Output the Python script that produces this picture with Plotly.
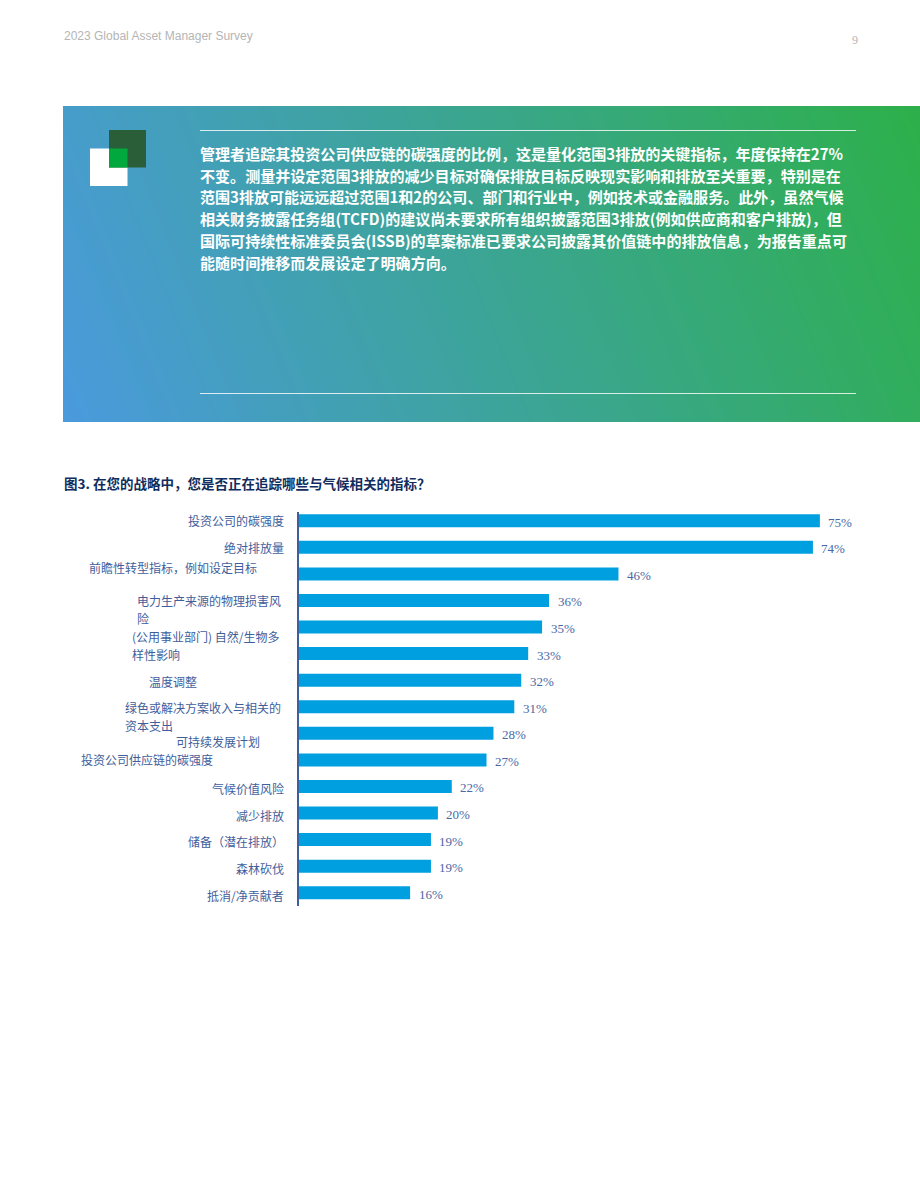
import plotly.graph_objects as go

W, H = 920, 1191

# chart data, top bar first
values = [75, 74, 46, 36, 35, 33, 32, 31, 28, 27, 22, 20, 19, 19, 16]

# labels are placed by hand in the source page, so they do not line up with the bars
label_lines = [
    "投资公司的碳强度", "绝对排放量", "前瞻性转型指标，例如设定目标",
    "电力生产来源的物理损害风", "险", "(公用事业部门) 自然/生物多", "样性影响", "温度调整",
    "绿色或解决方案收入与相关的", "资本支出", "可持续发展计划", "投资公司供应链的碳强度",
    "气候价值风险", "减少排放", "储备（潜在排放）", "森林砍伐", "抵消/净贡献者",
]
label_anchor = ["right", "right", "left", "left", "left", "left", "left", "left",
                "left", "left", "left", "left", "right", "right", "right", "right", "right"]
label_x = [284, 284, 89, 137, 137, 132, 132, 149, 125, 125, 176, 81, 284, 284, 284, 284, 284]
label_y = [520, 547, 567, 600, 618, 636, 654, 681, 707, 725, 741, 759, 788, 815, 841, 868, 895]

panel_lines = [
    "管理者追踪其投资公司供应链的碳强度的比例，这是量化范围3排放的关键指标，年度保持在27%",
    "不变。测量并设定范围3排放的减少目标对确保排放目标反映现实影响和排放至关重要，特别是在",
    "范围3排放可能远远超过范围1和2的公司、部门和行业中，例如技术或金融服务。此外，虽然气候",
    "相关财务披露任务组(TCFD)的建议尚未要求所有组织披露范围3排放(例如供应商和客户排放)，但",
    "国际可持续性标准委员会(ISSB)的草案标准已要求公司披露其价值链中的排放信息，为报告重点可",
    "能随时间推移而发展设定了明确方向。",
]
panel_y = [153.5, 175.5, 196.5, 218.5, 240.5, 262.5]

title_text = "图3. 在您的战略中，您是否正在追踪哪些与气候相关的指标？"
header_text = "2023 Global Asset Manager Survey"
page_number = "9"

CJK = "Noto Sans CJK SC"
BAR = "#009FDF"
NAVY = "#3F5E9C"


def px(x):
    return x / W


def py(y):
    return 1 - y / H


def text_at(x, y, text, size, color, font=CJK, anchor="left"):
    return dict(xref="paper", yref="paper", x=px(x), y=py(y), text=text, showarrow=False,
                xanchor=anchor, yanchor="middle", borderpad=0, borderwidth=0,
                font=dict(family=font, size=size, color=color))


def rect(x0, y0, x1, y1, color):
    return dict(type="rect", xref="paper", yref="paper", x0=px(x0), x1=px(x1), y0=py(y0), y1=py(y1),
                fillcolor=color, line=dict(width=0), layer="above")


def hline(x0, x1, y):
    return dict(type="line", xref="paper", yref="paper", x0=px(x0), x1=px(x1), y0=py(y), y1=py(y),
                line=dict(color="rgba(255,255,255,0.8)", width=1), layer="above")


fig = go.Figure()

# gradient panel behind the text
fig.add_trace(go.Heatmap(
    x=[0, 1], y=[0, 1], z=[[0, 0.87], [0.13, 1]],
    zsmooth="best", showscale=False, hoverinfo="skip", zmin=0, zmax=1,
    colorscale=[[0, "#4A9ADD"], [1, "#2DB04A"]],
    xaxis="x2", yaxis="y2",
))

rows = list(range(len(values)))
fig.add_trace(go.Bar(
    x=values, y=rows, orientation="h", width=13 / 26.57,
    marker=dict(color=BAR, line=dict(width=0)), hoverinfo="skip", showlegend=False,
))

annotations = [
    text_at(64, 36, header_text, 12, "#B5B5B5", "Liberation Sans"),
    text_at(852, 40, page_number, 12, "#B5B5B5", "Liberation Serif"),
    text_at(64, 483, "<b>" + title_text + "</b>", 13.5, "#0F2D5E"),
]
for line, y in zip(panel_lines, panel_y):
    annotations.append(text_at(200, y, "<b>" + line + "</b>", 15.05, "white"))
for line, anchor, x, y in zip(label_lines, label_anchor, label_x, label_y):
    annotations.append(text_at(x, y, line, 12, NAVY, anchor=anchor))
for row, val in zip(rows, values):
    annotations.append(dict(x=val, y=row, xref="x", yref="y", text=f"{val}%", showarrow=False,
                            xanchor="left", yanchor="middle", xshift=7.5, yshift=-1.5, borderpad=0,
                            font=dict(family="Liberation Serif", size=13, color="#4A68A5")))

fig.update_layout(
    width=W, height=H, margin=dict(l=0, r=0, t=0, b=0),
    paper_bgcolor="white", plot_bgcolor="rgba(0,0,0,0)", showlegend=False,
    xaxis=dict(domain=[px(299), px(860)], range=[0, 561 / 6.945], visible=False, fixedrange=True),
    yaxis=dict(domain=[py(906), py(512)], range=[14.5, -0.33], showticklabels=False, ticks="",
               showgrid=False, zeroline=False, showline=True, linecolor=NAVY, linewidth=2, fixedrange=True),
    xaxis2=dict(domain=[px(63), 1], range=[0, 1], visible=False, anchor="y2", fixedrange=True),
    yaxis2=dict(domain=[py(422), py(106)], range=[0, 1], visible=False, anchor="x2", fixedrange=True),
    annotations=annotations,
    shapes=[
        hline(200, 856, 130.5),
        hline(200, 856, 393.5),
        rect(90, 148.5, 127.5, 186, "white"),
        rect(109, 130, 146, 167.5, "#2A5E38"),
        rect(109, 148.5, 127.5, 167.5, "#00A83E"),
    ],
)

fig.write_html("out.html", config=dict(displayModeBar=False),
               post_script="document.body.style.margin='0';document.body.style.overflow='hidden';")
